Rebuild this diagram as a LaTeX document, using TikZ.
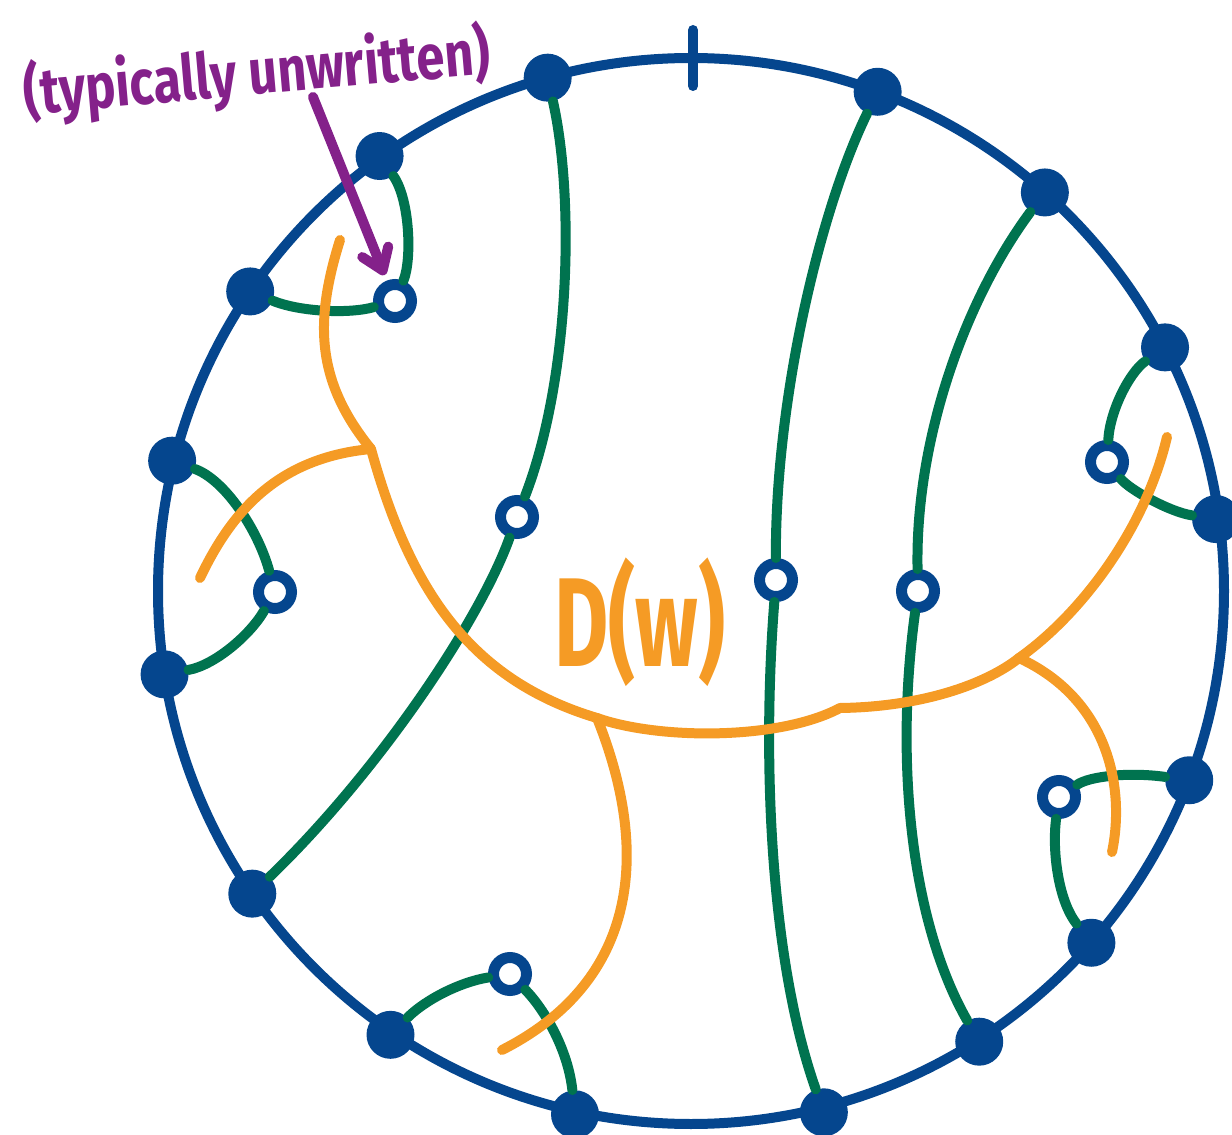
\documentclass[tikz,border=0pt]{standalone}
\usepackage{fontspec}
\newfontfamily\hand{Fira Sans}
\usetikzlibrary{arrows.meta,calc}
\definecolor{blue1}{HTML}{05468E}
\definecolor{green1}{HTML}{00734F}
\definecolor{orange1}{HTML}{F59B25}
\definecolor{purple1}{HTML}{84218A}

\begin{document}
\begin{tikzpicture}[x=0.02cm,y=-0.02cm,line cap=round,
	dot/.style={circle,fill=blue1,inner sep=0pt,minimum size=0.96cm},
	hole/.style={circle,draw=blue1,fill=white,line width=0.22cm,inner sep=0pt,minimum size=0.66cm},
	edge/.style={green1,line width=0.2cm},
	dual/.style={orange1,line width=0.2cm}]
\useasboundingbox (0,0) rectangle (1232,1135);
\coordinate (o) at (691,591);
\draw[blue1,line width=0.2cm] (o) circle[radius=533];
\draw[blue1,line width=0.2cm] (693,30) -- (693,86);
\foreach \a/\r [count=\i] in {-105.6/533,-69.5/533,-48.4/533,-27.2/533,-7.8/530,20.8/533,41.3/533,57.4/535,75.7/538,102.5/536,124.1/536,145.4/533,171/533,-165.9/535,-145.8/533,-125.6/535}
	\node[dot] (v\i) at ($(o)+(\a:\r)$) {};
\foreach \p [count=\i] in {(395,301),(517,517),(776,580),(918,591),(1107,462),(275,592),(1059,797),(510,974)}
	\node[hole] (u\i) at \p {};
\draw[edge] (v1) .. controls (575,200) and (570,380) .. (u2);
\draw[edge] (u2) .. controls (480,620) and (380,770) .. (v12);
\draw[edge] (v2) .. controls (820,210) and (775,400) .. (u3);
\draw[edge] (u3) .. controls (762,760) and (770,960) .. (v9);
\draw[edge] (v3) .. controls (965,300) and (915,440) .. (u4);
\draw[edge] (u4) .. controls (895,760) and (910,920) .. (v8);
\draw[edge] (v16) .. controls (410,200) and (412,260) .. (u1);
\draw[edge] (v15) .. controls (300,312) and (350,314) .. (u1);
\draw[edge] (v4) .. controls (1130,372) and (1110,410) .. (u5);
\draw[edge] (u5) .. controls (1130,490) and (1170,512) .. (v5);
\draw[edge] (v14) .. controls (225,480) and (258,530) .. (u6);
\draw[edge] (u6) .. controls (250,635) and (215,665) .. (v13);
\draw[edge] (v6) .. controls (1130,772) and (1090,776) .. (u7);
\draw[edge] (u7) .. controls (1052,850) and (1058,900) .. (v7);
\draw[edge] (v11) .. controls (425,1000) and (460,982) .. (u8);
\draw[edge] (u8) .. controls (545,1010) and (568,1050) .. (v10);
\coordinate (j1) at (371,449);
\coordinate (j2) at (597,718);
\coordinate (j3) at (840,708);
\coordinate (j4) at (1019,658);
\coordinate (e1) at (340,240);
\coordinate (e2) at (200,578);
\coordinate (e3) at (502,1050);
\coordinate (e4) at (1167,437);
\coordinate (e5) at (1112,852);
\draw[dual] (e1) .. controls (315,320) and (315,380) .. (j1);
\draw[dual] (j1) .. controls (275,458) and (230,515) .. (e2);
\draw[dual] (j1) .. controls (410,590) and (470,680) .. (j2);
\draw[dual] (j2) .. controls (650,850) and (640,980) .. (e3);
\draw[dual] (j2) .. controls (660,740) and (780,740) .. (j3);
\draw[dual] (j3) .. controls (920,707) and (985,685) .. (j4);
\draw[dual] (j4) .. controls (1080,615) and (1145,530) .. (e4);
\draw[dual] (j4) .. controls (1110,700) and (1125,790) .. (e5);
\node[orange1,font=\hand\bfseries\fontsize{72}{72}\selectfont,xscale=0.66] (dw) at (640,622) {D(w)};
\node[purple1,rotate=5,xscale=0.8,font=\hand\bfseries\fontsize{36}{36}\selectfont] (note) at (257,74) {(typically unwritten)};
\coordinate (p1) at (313,97);
\draw[purple1,line width=0.2cm,-{Straight Barb[length=0.4cm,width=0.56cm,round]},shorten >=0.12cm] (p1) -- (u1);
\end{tikzpicture}
\end{document}
